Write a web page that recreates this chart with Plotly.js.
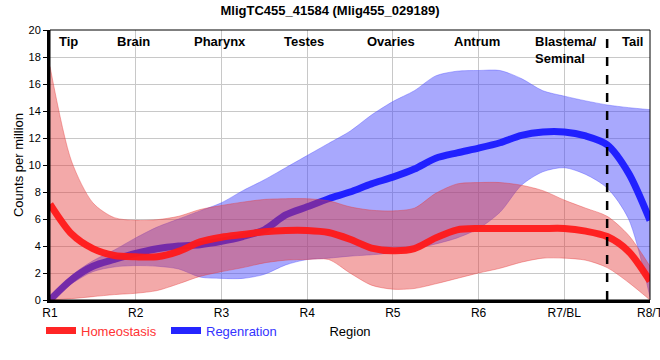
<!DOCTYPE html>
<html><head><meta charset="utf-8">
<script src="https://cdn.plot.ly/plotly-3.0.1.min.js"></script>
<style>html,body{margin:0;padding:0;background:#fff}#c{width:660px;height:360px}</style>
</head><body><div id="c"></div>
<script>
// Region positions (1..8) sampled at quarter steps
const xs = [1,1.25,1.5,1.75,2,2.25,2.5,2.75,3,3.25,3.5,3.75,4,4.25,4.5,4.75,5,5.25,5.5,5.75,6,6.25,6.5,6.75,7,7.25,7.5,7.75,8];
const tickVals = [1,2,3,4,5,6,7,8];
const tickLabels = ["R1","R2","R3","R4","R5","R6","R7/BL","R8/T"];
const regionNames = ["Tip","Brain","Pharynx","Testes","Ovaries","Antrum","Blastema/<br>Seminal","Tail"];
const regionPos = [1.21,1.97,2.98,3.96,4.98,5.98,6.64,7.79];
const tailBoundary = 7.5;

const homeoMean  = [7.1,4.9,3.8,3.3,3.2,3.2,3.6,4.3,4.65,4.85,5.05,5.15,5.15,5.0,4.5,3.85,3.65,3.8,4.6,5.2,5.3,5.3,5.3,5.3,5.3,5.1,4.7,3.6,1.4];
const homeoUpper = [17.3,10.3,7.2,6.1,5.9,5.95,6.2,6.7,7.0,7.25,7.45,7.5,7.5,7.35,6.9,6.65,6.6,6.8,7.9,8.6,8.7,8.7,8.5,8.1,7.4,6.8,6.2,4.8,2.5];
const homeoLower = [0,0.1,0.25,0.4,0.5,0.7,1.2,1.75,2.1,2.4,2.75,2.95,3.0,3.0,2.0,1.1,0.8,0.85,1.2,1.6,2.0,2.35,2.8,3.1,3.1,2.95,2.4,1.3,0];

const regenMean  = [0,1.5,2.5,3.0,3.45,3.8,4.0,4.1,4.35,4.7,5.2,6.3,6.9,7.5,8.0,8.6,9.1,9.7,10.5,10.9,11.25,11.65,12.2,12.45,12.45,12.15,11.5,9.4,5.9];
const regenUpper = [0,1.8,2.9,3.7,4.6,5.4,6.0,6.6,7.2,8.1,8.9,9.8,10.7,11.6,12.5,13.7,14.7,15.5,16.6,16.95,17.0,17.0,16.4,15.5,15.1,14.75,14.45,14.25,14.1];
const regenLower = [0,1.2,2.1,2.45,2.55,2.5,2.3,1.7,1.6,1.6,1.9,2.6,3.0,3.1,3.25,3.35,3.5,3.8,4.15,4.6,5.3,6.5,8.5,9.5,9.8,9.3,8.3,6.0,0.2];

const F = "Liberation Sans, Arial, sans-serif";
const sp = {shape:'spline', smoothing:0.8};

const traces = [
  {x:xs, y:regenLower, mode:'lines', line:Object.assign({width:0.8, color:'rgba(80,80,255,0.5)'},sp), showlegend:false, hoverinfo:'skip'},
  {x:xs, y:regenUpper, mode:'lines', fill:'tonexty', fillcolor:'rgba(70,70,250,0.47)', line:Object.assign({width:0.8, color:'rgba(80,80,255,0.5)'},sp), showlegend:false, hoverinfo:'skip'},
  {x:xs, y:regenMean, mode:'lines', name:"<span style='color:#3333ff'>Regenration</span>", legendrank:2, line:Object.assign({width:7, color:'rgba(25,25,255,0.95)'},sp)},
  {x:xs, y:homeoLower, mode:'lines', line:Object.assign({width:0.8, color:'rgba(230,60,60,0.5)'},sp), showlegend:false, hoverinfo:'skip'},
  {x:xs, y:homeoUpper, mode:'lines', fill:'tonexty', fillcolor:'rgba(228,55,55,0.43)', line:Object.assign({width:0.8, color:'rgba(230,60,60,0.5)'},sp), showlegend:false, hoverinfo:'skip'},
  {x:xs, y:homeoMean, mode:'lines', name:"<span style='color:#ff3333'>Homeostasis</span>", legendrank:1, line:Object.assign({width:7, color:'rgba(255,25,25,0.95)'},sp)}
];

const annotations = regionNames.map((t,i)=>({
  x: regionPos[i], y: 1, xref:'x', yref:'paper', yanchor:'top', yshift:-2,
  xanchor: i===6 ? 'left' : 'center', align:'left',
  text:'<b>'+t+'</b>', showarrow:false, font:{family:F, size:13, color:'#000'}
}));

const layout = {
  width:660, height:360,
  margin:{l:50, r:10, t:30, b:60, autoexpand:false},
  paper_bgcolor:'#fff', plot_bgcolor:'#fff',
  title:{text:'<b>MligTC455_41584 (Mlig455_029189)</b>', x:0.5, xref:'container', y:0.985, yref:'container', yanchor:'top', font:{family:F, size:13, color:'#000'}},
  xaxis:{range:[1,8], tickvals:tickVals, ticktext:tickLabels, showgrid:true, gridcolor:'#c8c8c8', gridwidth:1,
    automargin:false, ticklabeloverflow:'allow',
    zeroline:false, showline:true, linecolor:'#000', linewidth:3, ticks:'', tickfont:{family:F, size:12, color:'#000'},
    title:{text:'Region', standoff:8, font:{family:F, size:13, color:'#000'}}},
  yaxis:{range:[0,20], dtick:2, showgrid:true, gridcolor:'#c8c8c8', gridwidth:1, zeroline:false, automargin:false,
    showline:true, linecolor:'#000', linewidth:3, ticks:'outside', ticklen:4, tickwidth:1, tickcolor:'#000',
    tickfont:{family:F, size:11, color:'#000'},
    title:{text:'Counts per million', standoff:2, font:{family:F, size:13, color:'#000'}}},
  showlegend:true,
  legend:{orientation:'h', x:-0.015, xanchor:'left', y:-0.058, yanchor:'top', font:{family:F, size:13}, traceorder:'normal',
    entrywidth:80, entrywidthmode:'pixels', bgcolor:'rgba(0,0,0,0)'},
  shapes:[
    {type:'rect', xref:'paper', yref:'paper', x0:0, x1:1, y0:0, y1:1, line:{color:'#000', width:1}},
    {type:'line', xref:'x', yref:'paper', x0:tailBoundary, x1:tailBoundary, y0:0, y1:1, line:{color:'#000', width:2.5, dash:'dash'}}
  ],
  annotations: annotations
};
Plotly.newPlot('c', traces, layout, {staticPlot:true});
</script></body></html>
